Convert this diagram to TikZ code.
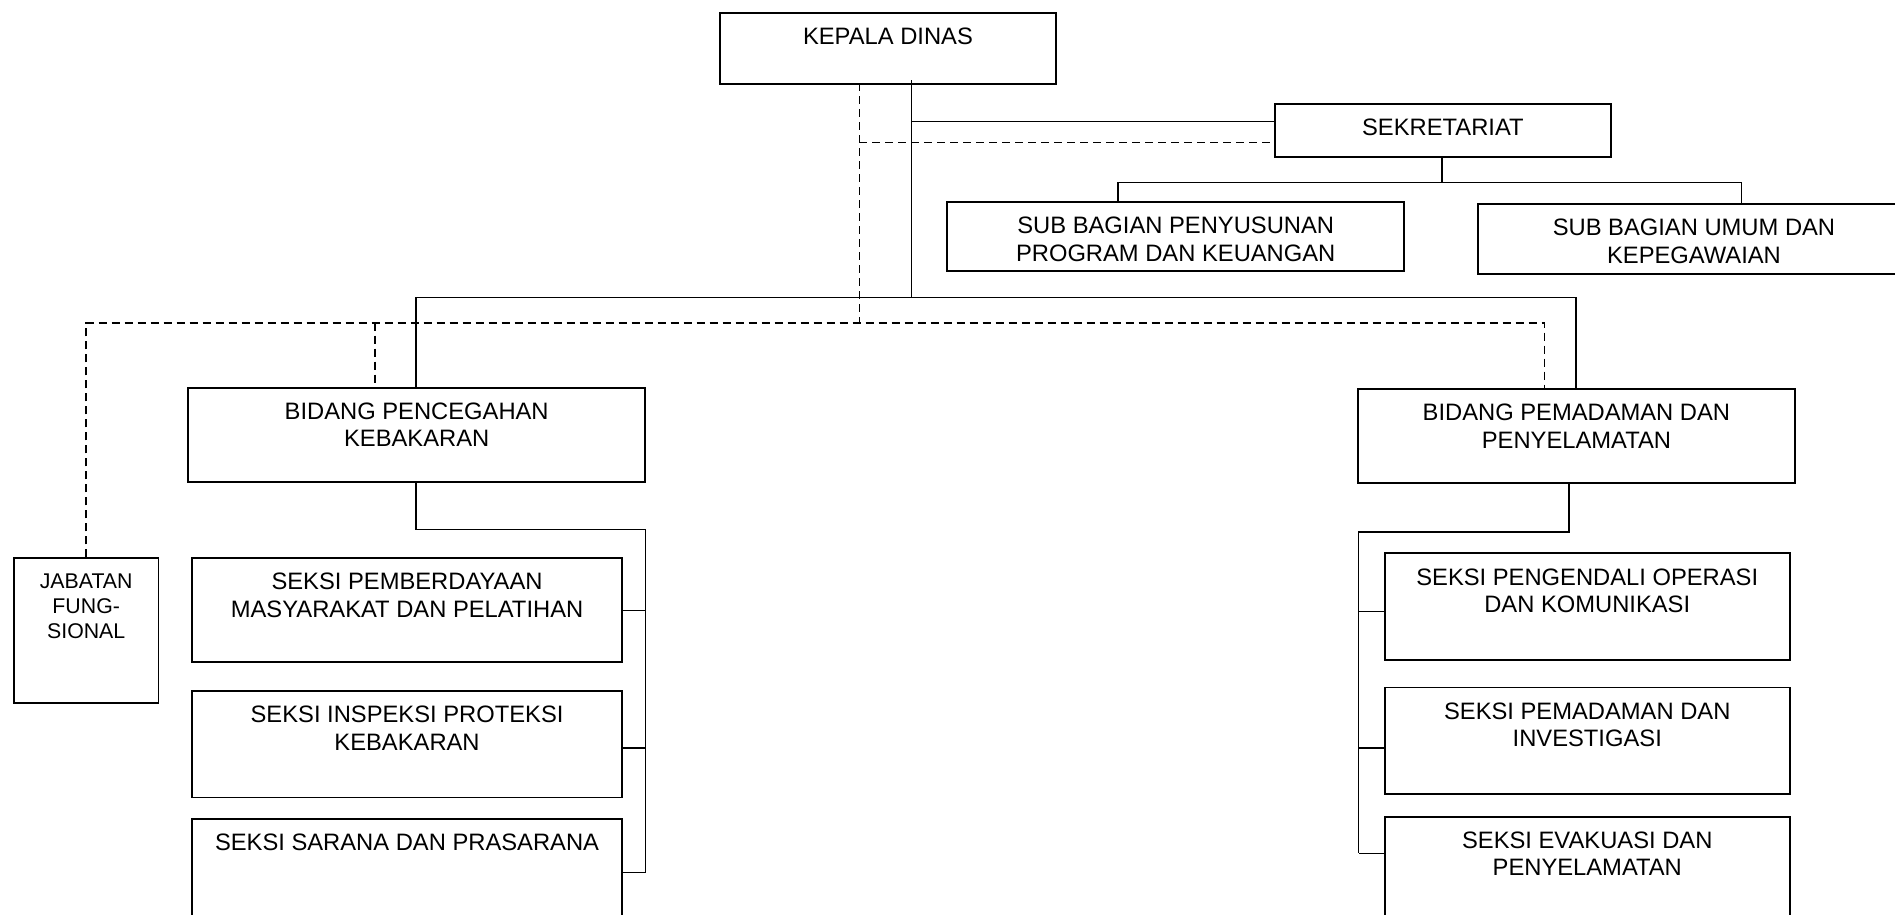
\documentclass[tikz,border=0pt]{standalone}
\usepackage{fontspec}
\setmainfont{Liberation Sans}
\begin{document}
\begin{tikzpicture}[x=1pt,y=-1pt,
  box/.style={draw, line width=1.9pt, rectangle, inner sep=0pt, anchor=north west},
  txt/.style={anchor=north, inner sep=0pt, align=center, font=\fontsize{23.75}{27.3}\selectfont},
  smalltxt/.style={anchor=north, inner sep=0pt, align=center, font=\fontsize{21.3}{25}\selectfont},
  ln/.style={line width=1.6pt},
  dsh/.style={line width=1.6pt, dash pattern=on 8pt off 5pt}]
\useasboundingbox (0,0) rectangle (1895,914);
\clip (0,0) rectangle (1895,914);
\fill[white] (0,0) rectangle (1895,914);
% boxes
\node[box, minimum width=336pt, minimum height=71.4pt] (kd) at (719,12) {};
\node[box, minimum width=336pt, minimum height=53.2pt] (sek) at (1273.9,102.7) {};
\node[box, minimum width=456.9pt, minimum height=69.4pt] (sbp) at (946.3,200.6) {};
\node[box, minimum width=432pt, minimum height=70pt] (sbu) at (1477,203) {};
\node[box, minimum width=456.9pt, minimum height=94.2pt] (bpc) at (187.3,386.8) {};
\node[box, minimum width=436.3pt, minimum height=94.2pt] (bpm) at (1357.3,388) {};
\node[box, minimum width=144.5pt, minimum height=145pt] (jab) at (13.0,557.3) {};
\node[box, minimum width=430.2pt, minimum height=103.9pt] (s1) at (191,557.2) {};
\node[box, minimum width=430.2pt, minimum height=106.4pt] (s2) at (191,690.1) {};
\node[box, minimum width=430.2pt, minimum height=110pt] (s3) at (191,818.2) {};
\node[box, minimum width=404.8pt, minimum height=106.4pt] (r1) at (1383.9,552.3) {};
\node[box, minimum width=404.8pt, minimum height=106.3pt] (r2) at (1383.9,686.5) {};
\node[box, minimum width=404.8pt, minimum height=110pt] (r3) at (1383.9,815.8) {};
% texts
\node[txt] (kdt) at ([yshift=-16pt]kd.north) {KEPALA DINAS};
\node[txt] (sekt) at ([yshift=-16pt]sek.north) {SEKRETARIAT};
\begin{scope}
\clip (sbp.north west) rectangle ([yshift=10pt]sbp.south east);
\node[txt] (sbpt) at ([yshift=-16.5pt]sbp.north) {SUB BAGIAN PENYUSUNAN\\PROGRAM DAN KEUANGAN};
\end{scope}
\node[txt] (sbut) at ([yshift=-16pt]sbu.north) {SUB BAGIAN UMUM DAN\\KEPEGAWAIAN};
\node[txt] (bpct) at ([yshift=-16pt]bpc.north) {BIDANG PENCEGAHAN\\KEBAKARAN};
\node[txt] (bpmt) at ([yshift=-16pt]bpm.north) {BIDANG PEMADAMAN DAN\\PENYELAMATAN};
\node[smalltxt] (jabt) at ([yshift=-16pt]jab.north) {JABATAN\\FUNG-\\SIONAL};
\node[txt] (s1t) at ([yshift=-16pt]s1.north) {SEKSI PEMBERDAYAAN\\MASYARAKAT DAN PELATIHAN};
\node[txt] (s2t) at ([yshift=-16pt]s2.north) {SEKSI INSPEKSI PROTEKSI\\KEBAKARAN};
\node[txt] (s3t) at ([yshift=-16pt]s3.north) {SEKSI SARANA DAN PRASARANA};
\node[txt] (r1t) at ([yshift=-16pt]r1.north) {SEKSI PENGENDALI OPERASI\\DAN KOMUNIKASI};
\node[txt] (r2t) at ([yshift=-16pt]r2.north) {SEKSI PEMADAMAN DAN\\INVESTIGASI};
\node[txt] (r3t) at ([yshift=-16pt]r3.north) {SEKSI EVAKUASI DAN\\PENYELAMATAN};
% junction coordinates
\coordinate (kdS) at (911.3,80);
\coordinate (kdD) at (859.3,83.4);
\coordinate (mainY) at (0,297.3);
\coordinate (dashY) at (0,322.7);
\coordinate (secY) at (1441.9,182.5);
\coordinate (lj) at (415.8,529.4);
\coordinate (lb) at (645.4,872.6);
\coordinate (rj) at (1568.8,531.8);
\coordinate (rb) at (1358.5,853.3);
% solid command lines
\draw[ln] (kdS) -- (kdS |- mainY);
\draw[ln] (kdS |- sek.west) ++(0,-8.6) coordinate (sk) -- (sk -| sek.west);
\draw[ln] (bpc.north -| 415.8,0) |- (mainY -| 1576,0) -- (bpm.north -| 1576,0);
\draw[ln] (sek.south -| secY) -- (secY);
\draw[ln] (sbp.north -| 1118,0) |- (secY) -| (sbu.north -| 1741.6,0);
% dashed coordination lines
\draw[dsh] (kdD) -- (kdD |- dashY);
\draw[dsh] (kdD |- sek.west) ++(0,12.4) coordinate (sd) -- (sd -| sek.west);
\draw[dsh] (jab.north) |- (dashY -| 1544.6,0) -- (bpm.north -| 1544.6,0);
\draw[dsh] (dashY -| 374.7,0) -- (bpc.north -| 374.7,0);
% left branch
\draw[ln] (bpc.south -| lj) -- (lj) -| (lb);
\draw[ln] (s1.east |- 0,610.3) -- (lb |- 0,610.3);
\draw[ln] (s2.east |- 0,748.1) -- (lb |- 0,748.1);
\draw[ln] (s3.east |- lb) -- (lb);
% right branch
\draw[ln] (bpm.south -| rj) -- (rj) -| (rb);
\draw[ln] (r1.west |- 0,611.6) -- (rb |- 0,611.6);
\draw[ln] (r2.west |- 0,748.1) -- (rb |- 0,748.1);
\draw[ln] (r3.west |- rb) -- (rb);
\end{tikzpicture}
\end{document}
